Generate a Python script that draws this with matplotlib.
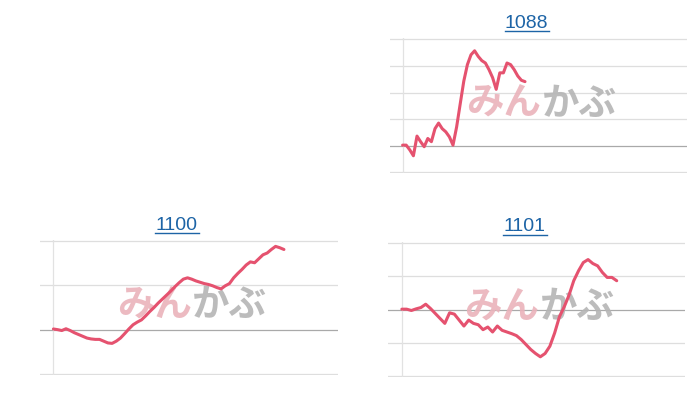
import matplotlib
matplotlib.use("Agg")
import matplotlib.pyplot as plt
from matplotlib.lines import Line2D

plt.rcParams["font.family"] = ["Liberation Sans", "DejaVu Sans"]

# values in grid units relative to the previous close (baseline = 0)
codes = ["1088", "1100", "1101"]

vals_1088 = [0.02, 0.02, -0.16, -0.38, 0.36, 0.15, -0.04, 0.27, 0.15, 0.64,
             0.85, 0.64, 0.52, 0.33, 0.02, 0.70, 1.57, 2.43, 3.05, 3.42,
             3.57, 3.36, 3.20, 3.11, 2.86, 2.56, 2.12, 2.74, 2.74, 3.11,
             3.05, 2.86, 2.62, 2.46, 2.41]

vals_1100 = [0.015, 0.0, -0.02, 0.02, -0.02, -0.07, -0.11, -0.15, -0.19, -0.21,
             -0.22, -0.22, -0.26, -0.30, -0.31, -0.26, -0.19, -0.09, 0.015, 0.11,
             0.17, 0.22, 0.31, 0.41, 0.50, 0.60, 0.69, 0.78, 0.87, 0.97,
             1.06, 1.14, 1.17, 1.14, 1.10, 1.07, 1.04, 1.02, 0.99, 0.95,
             0.92, 0.99, 1.04, 1.17, 1.27, 1.36, 1.46, 1.53, 1.51, 1.60,
             1.69, 1.73, 1.81, 1.88, 1.85, 1.81]

vals_1101 = [0.01, 0.01, -0.03, 0.02, 0.06, 0.16, 0.03, -0.12, -0.27, -0.42,
             -0.10, -0.14, -0.32, -0.50, -0.32, -0.42, -0.46, -0.61, -0.53, -0.68,
             -0.50, -0.63, -0.68, -0.73, -0.79, -0.91, -1.06, -1.21, -1.33, -1.43,
             -1.33, -1.11, -0.71, -0.22, 0.08, 0.43, 0.87, 1.17, 1.42, 1.51,
             1.39, 1.32, 1.12, 0.97, 0.97, 0.87]

grid_1088 = [-1, 0, 1, 2, 3, 4]
grid_1100 = [-1, 0, 1, 2]
grid_1101 = [-2, -1, 0, 1, 2]

LINE = "#e5526f"
TITLE = "#1d64a6"

W, H = 700, 400
fig = plt.figure(figsize=(7, 4), dpi=100)


def px_axes(x0, x1, y0, y1):
    # pixel box (top-left origin) -> figure fractions
    return fig.add_axes([x0 / W, 1 - y1 / H, (x1 - x0) / W, (y1 - y0) / H])


def mini_chart(ax, vals, grid, xlim):
    for g in grid:
        ax.axhline(g, color="#a9a9a9" if g == 0 else "#dedede", lw=0.9, zorder=1)
    ax.axvline(0, color="#e2e2e2", lw=0.9, zorder=1)
    ax.plot(range(len(vals)), vals, color=LINE, lw=2.2, zorder=4,
            solid_joinstyle="round", solid_capstyle="round")
    ax.set_xlim(*xlim)
    pad = (grid[-1] - grid[0]) * 0.008
    ax.set_ylim(grid[0] - pad, grid[-1] + pad)
    ax.axis("off")
    # site watermark
    wm = dict(fontsize=27, fontweight="bold", va="center", transform=ax.transAxes,
              family=["Noto Sans CJK JP", "DejaVu Sans"], zorder=2)
    ax.text(0.51, 0.52, "みん", ha="right", color="#eab3bb", alpha=0.9, **wm)
    ax.text(0.51, 0.52, "かぶ", ha="left", color="#b5b5b5", alpha=0.9, **wm)


def title(text, cx, cy, uy, half):
    fig.text(cx / W, 1 - cy / H, text, ha="center", va="center",
             fontsize=14, color=TITLE)
    fig.add_artist(Line2D([(cx - half) / W, (cx + half) / W], [1 - uy / H] * 2,
                          color=TITLE, lw=1.0, transform=fig.transFigure))


ax1 = px_axes(390, 687, 38.3, 173.3)
mini_chart(ax1, vals_1088, grid_1088, (-3.5, 79))
title(codes[0], 526.5, 23.5, 31.2, 22)

ax2 = px_axes(40, 338, 240, 375)
mini_chart(ax2, vals_1100, grid_1100, (-3.2, 67.9))
title(codes[1], 177, 225, 233, 22)

ax3 = px_axes(388, 685, 242.3, 376.7)
mini_chart(ax3, vals_1101, grid_1101, (-2.9, 59.3))
title(codes[2], 524.5, 226.5, 235, 22)

fig.savefig("out.png", dpi=100)
